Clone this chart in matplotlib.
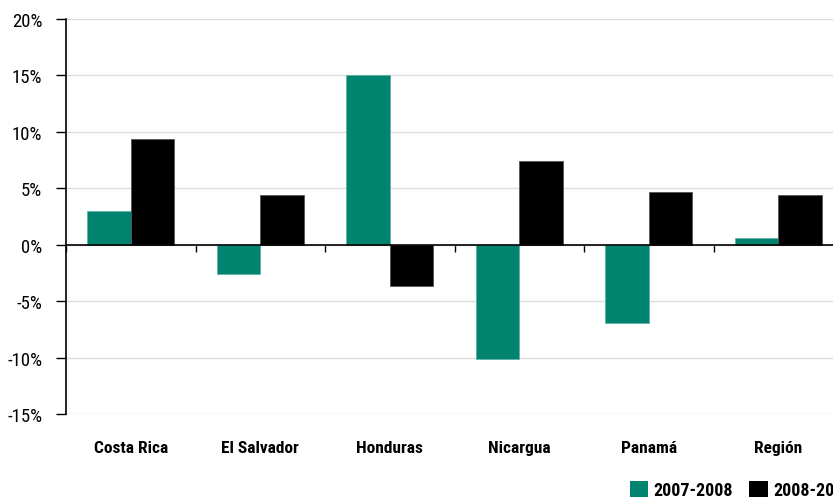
import matplotlib.pyplot as plt
import numpy as np
from matplotlib.patches import Patch
from matplotlib.ticker import FuncFormatter

countries = ["Costa Rica", "El Salvador", "Honduras", "Nicargua", "Panamá", "Región"]
serie_0708 = [3.0, -2.6, 15.0, -10.1, -6.9, 0.6]
serie_0809 = [9.4, 4.4, -3.7, 7.4, 4.7, 4.4]
labels = ["2007-2008", "2008-2009"]

teal = "#00846f"
font = ["Roboto Condensed", "Liberation Sans Narrow", "Roboto", "DejaVu Sans"]

fig = plt.figure(figsize=(8.33, 5.02), dpi=100)
ax = fig.add_axes([66 / 833, 87 / 502, 777 / 833, 395 / 502])

x = np.arange(len(countries))
w = 0.335
ax.bar(x - w / 2, serie_0708, w, color=teal, edgecolor="#5fb3a5", linewidth=0.6, zorder=3)
ax.bar(x + w / 2, serie_0809, w, color="black", edgecolor="#555555", linewidth=0.6, zorder=3)

ax.set_xlim(-0.5, len(countries) - 0.5)
ax.set_ylim(-15, 20)
ax.set_yticks(np.arange(-15, 21, 5))
ax.yaxis.set_major_formatter(FuncFormatter(lambda v, p: f"{v:.0f}%"))
ax.grid(axis="y", color="#dddddd", linewidth=1, zorder=0)
ax.set_axisbelow(True)

for s in ["top", "right"]:
    ax.spines[s].set_visible(False)
ax.spines["left"].set_linewidth(1.2)
ax.spines["bottom"].set_position(("data", 0))
ax.spines["bottom"].set_linewidth(1.2)
ax.spines["bottom"].set_zorder(4)

ax.set_xticks(np.arange(len(countries) + 1) - 0.5)
ax.set_xticklabels([])
ax.tick_params(axis="x", direction="out", length=5, width=1)
ax.tick_params(axis="y", direction="out", length=7, width=1, pad=10)
for t in ax.get_yticklabels():
    t.set_fontfamily(font)
    t.set_fontsize(13.5)

for i, c in enumerate(countries):
    ax.text(i, -0.085, c, transform=ax.get_xaxis_transform(), ha="center", va="center",
            fontfamily=font, fontweight="bold", fontsize=12.5)

handles = [Patch(facecolor=teal), Patch(facecolor="black")]
fig.legend(handles, labels, loc="lower left", bbox_to_anchor=(614 / 833, -0.029), ncol=2,
           frameon=False, handlelength=1.0, handleheight=1.0, handletextpad=0.3,
           columnspacing=0.9, prop={"family": font, "weight": "bold", "size": 13})

fig.savefig("out.png", dpi=100)
